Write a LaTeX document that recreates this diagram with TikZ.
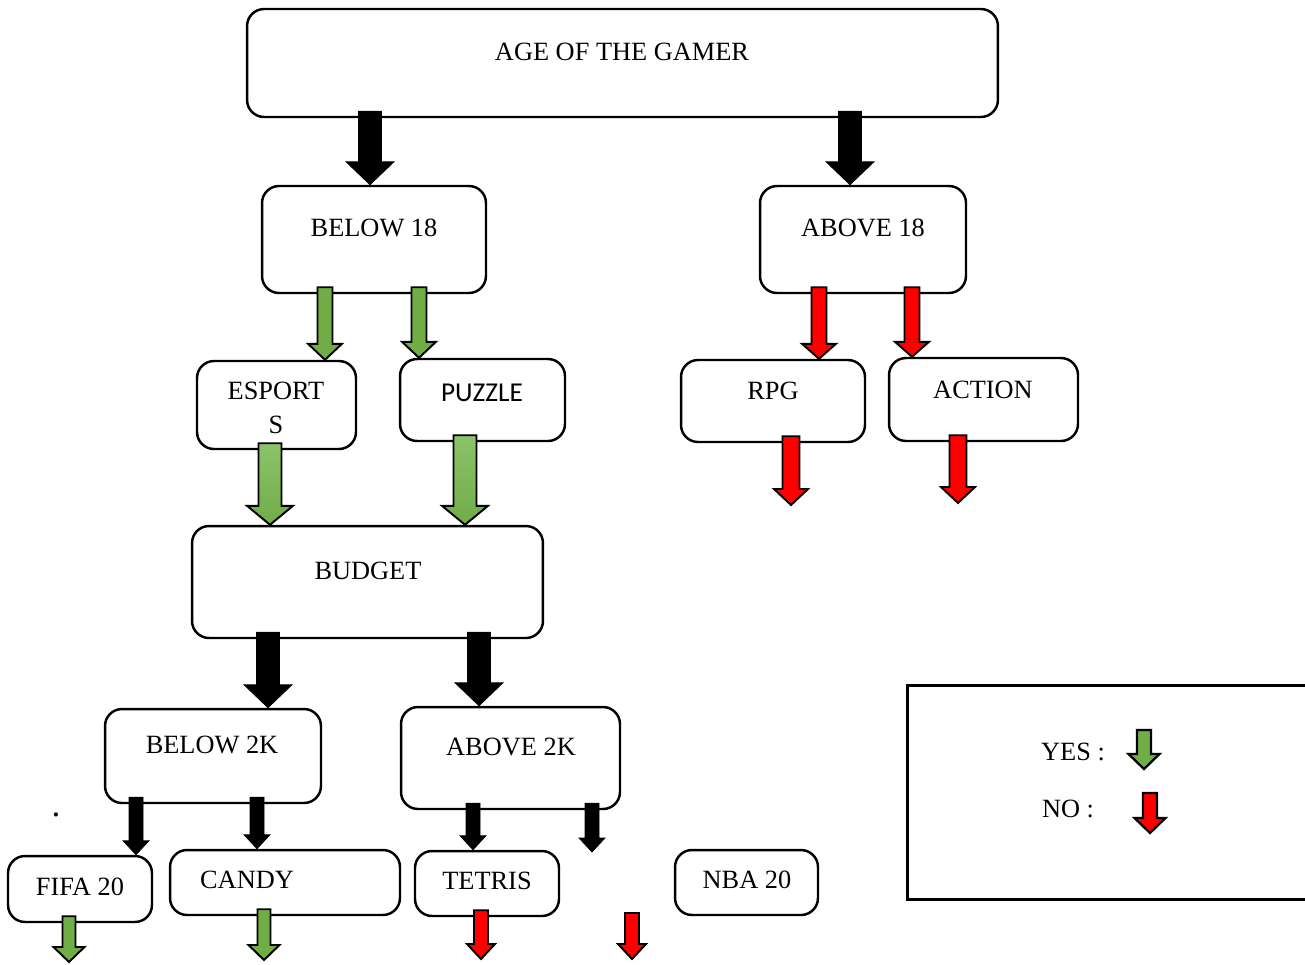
\documentclass[tikz,border=0pt]{standalone}
\usepackage{fontspec}
\setmainfont{Liberation Serif}
\newfontfamily\calibri{Carlito}

\definecolor{yesgreen}{HTML}{70AD47}
\definecolor{yeslight}{HTML}{8DC26B}
\definecolor{nored}{HTML}{FF0000}

\def\pxu{0.02cm}
% block arrow: [style]{x}{from}{to}
\newcommand{\barrow}[4][]{%
  \draw[#1] ([xshift=-\aw*\pxu, yshift=7*\pxu]#2,0 |- #3)
    -- ([xshift=\aw*\pxu, yshift=7*\pxu]#2,0 |- #3)
    -- ([xshift=\aw*\pxu, yshift=\al*\pxu]#2,0 |- #4)
    -- ([xshift=\ah*\pxu, yshift=\al*\pxu]#2,0 |- #4)
    -- (#2,0 |- #4)
    -- ([xshift=-\ah*\pxu, yshift=\al*\pxu]#2,0 |- #4)
    -- ([xshift=-\aw*\pxu, yshift=\al*\pxu]#2,0 |- #4) -- cycle;}

\tikzset{
  arrowsize/.code args={#1/#2/#3}{\def\aw{#1}\def\ah{#2}\def\al{#3}},
  blkbig/.style={fill=black, draw=black, line width=0.4pt, arrowsize=11.5/24/23},
  blksmall/.style={fill=black, draw=black, line width=0.4pt, arrowsize=7/13/14},
  grnsmall/.style={fill=yesgreen, draw=black, line width=1.1pt, arrowsize=7.5/17/16},
  grnbig/.style={top color=yeslight, bottom color=yesgreen, draw=black, line width=1.1pt, arrowsize=11.5/23/19},
  grnlow/.style={fill=yesgreen, draw=black, line width=1.1pt, arrowsize=6.5/15.5/15},
  redtop/.style={fill=nored, draw=black, line width=1.1pt, arrowsize=7.5/17/15},
  redmid/.style={fill=nored, draw=black, line width=1.1pt, arrowsize=8.5/17/16},
  redlow/.style={fill=nored, draw=black, line width=1.1pt, arrowsize=7/14/15},
  legarrow/.style={draw=black, line width=1.3pt, arrowsize=7/15.5/15}
}

\begin{document}
\begin{tikzpicture}[x=0.02cm, y=-0.02cm,
  box/.style={draw, line width=1.4pt, rounded corners=0.34cm, inner sep=0pt},
  lbl/.style={font=\fontsize{15}{19}\selectfont, inner sep=0pt, align=center}]
\clip (0,0) rectangle (1305,964);

% boxes
\node[box, minimum width=15.02cm, minimum height=2.16cm] (age) at (622.5,63) {};
\node[box, minimum width=4.48cm, minimum height=2.14cm] (below18) at (374,239.5) {};
\node[box, minimum width=4.12cm, minimum height=2.14cm] (above18) at (863,239.5) {};
\node[box, minimum width=3.18cm, minimum height=1.76cm] (esports) at (276.5,405) {};
\node[box, minimum width=3.30cm, minimum height=1.64cm] (puzzle) at (482.5,400) {};
\node[box, minimum width=3.68cm, minimum height=1.64cm] (rpg) at (773,401) {};
\node[box, minimum width=3.78cm, minimum height=1.66cm] (action) at (983.5,399.5) {};
\node[box, minimum width=7.02cm, minimum height=2.24cm] (budget) at (367.5,582) {};
\node[box, minimum width=4.32cm, minimum height=1.88cm] (below2k) at (213,756) {};
\node[box, minimum width=4.38cm, minimum height=2.04cm] (above2k) at (510.5,758) {};
\node[box, minimum width=2.88cm, minimum height=1.32cm] (fifa) at (80,889) {};
\node[box, minimum width=4.60cm, minimum height=1.30cm] (candy) at (285,882.5) {};
\node[box, minimum width=2.88cm, minimum height=1.30cm] (tetris) at (487,883.5) {};
\node[box, minimum width=2.86cm, minimum height=1.30cm] (nba) at (746.5,882.5) {};
\node[draw, line width=1.7pt, minimum width=8.4cm, minimum height=4.30cm] (legend) at (1117,792.5) {};

% labels
\node[lbl] (age-t) at (622,52) {AGE OF THE GAMER};
\node[lbl] (below18-t) at (374,228) {BELOW 18};
\node[lbl] (above18-t) at (863,228) {ABOVE 18};
\node[lbl] (esports-t) at (276,408) {ESPORT\\S};
\node[lbl, font=\calibri\fontsize{15.5}{19}\selectfont] (puzzle-t) at (482,393) {PUZZLE};
\node[lbl] (rpg-t) at (773,391) {RPG};
\node[lbl] (action-t) at (983,390) {ACTION};
\node[lbl] (budget-t) at (368,571) {BUDGET};
\node[lbl] (below2k-t) at (212,745) {BELOW 2K};
\node[lbl] (above2k-t) at (511,747) {ABOVE 2K};
\node[lbl] (fifa-t) at (80,887) {FIFA 20};
\node[lbl] (candy-t) at (247,880) {CANDY};
\node[lbl] (tetris-t) at (487,881) {TETRIS};
\node[lbl] (nba-t) at (747,880) {NBA 20};
\node[lbl] (yes-t) at (1073,752) {YES :};
\node[lbl] (no-t) at (1068,809) {NO :};
\node[lbl, font=\fontsize{20}{24}\selectfont] (dot) at (56,815) {.};

% free ends
\coordinate (rpgend) at (791,505);
\coordinate (actend) at (958,503);
\coordinate (abvend) at (592,852);
\coordinate (fifaend) at (69,962);
\coordinate (candyend) at (264,960);
\coordinate (tetrisend) at (481,959);
\coordinate (freestart) at (632,920);
\coordinate (freeend) at (632,959);
\coordinate (yesfrom) at (1144,737);
\coordinate (yesto) at (1144,769);
\coordinate (nofrom) at (1150,800);
\coordinate (noto) at (1150,833);

% arrows
\barrow[blkbig]{370}{age.south}{below18.north}
\barrow[blkbig]{850}{age.south}{above18.north}
\barrow[grnsmall]{325}{below18.south}{esports.north}
\barrow[grnsmall]{419}{below18.south}{puzzle.north}
\barrow[redtop]{819}{above18.south}{rpg.north}
\barrow[redtop]{912}{above18.south}{action.north}
\barrow[grnbig]{270}{esports.south}{budget.north}
\barrow[grnbig]{465}{puzzle.south}{budget.north}
\barrow[redmid]{791}{rpg.south}{rpgend}
\barrow[redmid]{958}{action.south}{actend}
\barrow[blkbig]{268}{budget.south}{below2k.north}
\barrow[blkbig]{479}{budget.south}{above2k.north}
\barrow[blksmall]{136}{below2k.south}{fifa.north}
\barrow[blksmall]{257}{below2k.south}{candy.north}
\barrow[blksmall]{473}{above2k.south}{tetris.north}
\barrow[blksmall]{592}{above2k.south}{abvend}
\barrow[grnlow]{69}{fifa.south}{fifaend}
\barrow[grnlow]{264}{candy.south}{candyend}
\barrow[redlow]{481}{tetris.south}{tetrisend}
\barrow[redlow]{632}{freestart}{freeend}

% legend arrows
\barrow[legarrow, fill=yesgreen]{1144}{yesfrom}{yesto}
\barrow[legarrow, fill=nored]{1150}{nofrom}{noto}
\end{tikzpicture}
\end{document}
